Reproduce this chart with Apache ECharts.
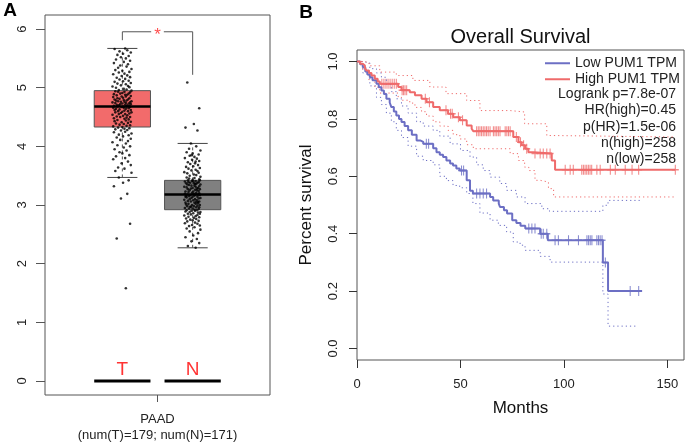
<!DOCTYPE html>
<html><head><meta charset="utf-8">
<script src="https://cdn.jsdelivr.net/npm/echarts@6/dist/echarts.min.js"></script>
<style>html,body{margin:0;padding:0;background:#fff}#c{width:685px;height:443px}</style>
</head><body><div id="c"></div>
<script>
// ---------------- Panel A data ----------------
const groups = ['T', 'N'];
const groupFill = ['#f26b6b', '#808080'];
// [lower whisker, Q1, median, Q3, upper whisker]
const boxStats = [
  [3.47, 4.33, 4.68, 4.95, 5.67],
  [2.27, 2.92, 3.18, 3.42, 4.05]
];
const tValues = [1.58,2.43,2.68,3.11,3.19,3.32,3.38,
  3.42,3.47,3.55,3.58,3.62,3.64,3.68,3.71,3.74,3.78,3.80,3.83,3.85,3.88,3.90,3.93,3.95,3.98,4.00,4.02,4.05,4.07,4.09,4.11,4.13,4.15,4.17,4.19,4.20,4.22,4.24,4.25,4.27,4.28,4.29,4.30,4.31,4.32,
  4.33,4.34,4.35,4.36,4.37,4.38,4.39,4.40,4.41,4.42,4.43,4.44,4.45,4.46,4.47,4.48,4.49,4.50,4.50,4.51,
  4.52,4.53,4.54,4.55,4.55,4.56,4.57,4.58,4.58,4.59,4.60,4.60,4.61,4.62,4.62,4.63,4.64,4.64,4.65,4.66,
  4.66,4.67,4.67,4.68,4.68,4.68,4.69,4.69,4.70,4.70,4.71,4.71,4.72,4.72,4.73,4.73,4.74,4.74,4.75,4.75,
  4.76,4.76,4.77,4.77,4.78,4.78,4.79,4.80,4.80,4.81,4.82,4.82,4.83,4.84,4.85,4.85,4.86,4.87,4.88,4.88,
  4.89,4.90,4.90,4.91,4.92,4.93,4.93,4.94,4.95,
  4.96,4.97,4.98,5.00,5.01,5.02,5.03,5.04,5.06,5.07,5.08,5.10,5.11,5.12,5.14,5.15,5.17,5.18,5.20,5.21,
  5.23,5.24,5.26,5.27,5.29,5.30,5.32,5.34,5.36,5.38,5.40,5.42,5.44,5.46,5.48,5.50,5.52,5.54,5.56,5.58,
  5.60,5.62,5.64,5.66,5.67];
const nValues = [2.27,2.30,2.35,2.38,2.42,2.45,2.48,2.52,2.55,2.58,2.60,2.62,2.64,2.65,2.66,2.68,2.69,2.70,2.72,2.73,
  2.74,2.75,2.76,2.77,2.78,2.79,2.80,2.81,2.82,2.83,2.84,2.85,2.85,2.86,2.87,2.88,2.88,2.89,2.90,2.90,2.91,2.91,2.92,
  2.93,2.94,2.94,2.95,2.96,2.96,2.97,2.98,2.98,2.99,3.00,3.00,3.01,3.02,3.02,3.03,3.04,3.04,3.05,3.06,
  3.06,3.07,3.08,3.08,3.09,3.10,3.10,3.11,3.12,3.12,3.13,3.14,3.14,3.15,3.16,3.16,3.17,3.17,3.18,3.18,
  3.18,3.19,3.19,3.20,3.21,3.21,3.22,3.23,3.23,3.24,3.25,3.25,3.26,3.27,3.27,3.28,3.29,3.29,3.30,3.31,
  3.31,3.32,3.33,3.33,3.34,3.35,3.35,3.36,3.37,3.37,3.38,3.38,3.39,3.39,3.40,3.40,3.41,3.41,3.42,3.42,
  3.36,3.28,3.14,3.05,2.97,
  3.43,3.44,3.45,3.46,3.47,3.48,3.50,3.51,3.52,3.54,3.55,3.56,3.58,3.59,3.60,3.62,3.63,3.65,3.66,3.68,
  3.70,3.71,3.73,3.75,3.77,3.79,3.80,3.82,3.84,3.86,3.88,3.90,3.93,3.96,4.00,4.05,
  4.27,4.32,4.38,4.65,5.09,3.74,3.85];
const jitter = [0.05,-0.08,0.11,-0.02,0.07,-0.12,0.01,0.09,-0.05,0.13,
  -0.10,0.03,-0.06,0.12,-0.01,0.08,-0.13,0.04,-0.09,0.10,
  0.00,-0.04,0.06,-0.11,0.02,0.11,-0.07,0.05,-0.14,0.08,
  -0.03,0.12,-0.08,0.01,0.09,-0.05,0.13,-0.12,0.04,-0.02,
  0.07,-0.10,0.03,0.10,-0.06,0.00,-0.13,0.06,0.11,-0.04,
  0.02,-0.09,0.08,-0.01,0.12,-0.11,0.05,-0.07,0.09,0.03,
  -0.12,0.06,-0.03,0.11,-0.08,0.01,0.07,-0.14,0.04,-0.05,
  0.10,-0.02,0.13,-0.10,0.00,0.08,-0.06,0.03,-0.11,0.12,
  -0.04,0.05,-0.09,0.09,0.02,-0.13,0.11,-0.01,0.06,-0.07,
  0.01,-0.12,0.10,-0.05,0.07,0.04,-0.08,0.12,-0.03,0.00,
  0.09,-0.10,0.05,-0.14,0.11,-0.02,0.03,-0.06,0.13,-0.09,
  0.06,0.02,-0.11,0.08,-0.04,0.10,-0.07,0.01,-0.13,0.05,
  -0.01,0.12,-0.08,0.04,0.07,-0.12,0.09,-0.03,0.00,0.11,
  -0.06,0.03,-0.10,0.13,-0.05,0.06,0.02,-0.09,0.10,-0.14,
  0.08,-0.02,0.05,-0.07,0.12,-0.11,0.01,0.09,-0.04,0.04,
  -0.08,0.11,-0.01,0.07,-0.13,0.03,-0.05,0.10,0.00,-0.10,
  0.13,-0.06,0.06,-0.03,0.08,-0.12,0.02,0.11,-0.09,0.05,
  -0.02,0.09,-0.07,0.01,0.12,-0.04,0.07,-0.11,0.04];
const yTicksA = [0, 1, 2, 3, 4, 5, 6];
const sigLeft = 5.81, sigTop = 5.954, sigRight = 5.22;
const groupLabelY = 0.19;
const xLabelA = 'PAAD\n(num(T)=179; num(N)=171)';

// ---------------- Panel B data ----------------
const kmLow = [[0,1],[1.5,0.99],[2.8,0.98],[4,0.965],[5,0.955],[6.2,0.945],[7.5,0.935],[9.4,0.922],[10.5,0.91],[11.8,0.899],[13,0.887],[14.2,0.87],[15.8,0.857],[16.6,0.841],[17.8,0.826],[19,0.812],[20.3,0.8],[21.5,0.789],[23,0.775],[24.7,0.76],[26.5,0.745],[28.8,0.725],[30.5,0.72],[32,0.713],[36.8,0.698],[38.4,0.684],[40,0.675],[41.6,0.667],[43.2,0.655],[45,0.645],[46.4,0.638],[48,0.627],[49.6,0.62],[53,0.586],[54.6,0.55],[56,0.54],[64.3,0.528],[65.8,0.516],[68.5,0.505],[69.1,0.493],[71,0.482],[72.5,0.47],[75,0.447],[77,0.437],[79,0.428],[81.3,0.418],[88.5,0.40],[92.2,0.377],[118.8,0.30],[121.3,0.20],[137.7,0.20]];
const kmHigh = [[0,1],[1.5,0.992],[2.8,0.986],[3.8,0.977],[4.5,0.969],[5.8,0.96],[7,0.951],[8.6,0.94],[10,0.93],[11,0.922],[19.9,0.911],[21.5,0.9],[25.5,0.893],[28,0.882],[31.2,0.87],[33.6,0.858],[36.8,0.841],[40,0.83],[44,0.818],[46.5,0.806],[49.7,0.795],[53,0.777],[55.4,0.766],[56.2,0.757],[75.5,0.737],[78,0.719],[79.6,0.708],[81.2,0.696],[82.8,0.684],[85.2,0.679],[94.1,0.655],[95.7,0.623],[153.8,0.623]];
const lowUpper = [[0,1],[2.8,0.995],[6.2,0.975],[9.4,0.96],[11.8,0.945],[14.2,0.92],[16.6,0.895],[19,0.87],[21.5,0.845],[24.7,0.82],[28.8,0.79],[32,0.775],[36.8,0.76],[40,0.74],[45,0.713],[50,0.69],[54.6,0.667],[57.8,0.64],[61,0.62],[64.3,0.597],[69,0.575],[72.3,0.551],[77,0.528],[81.2,0.505],[89.3,0.487],[93,0.478],[118.8,0.499],[121.3,0.516],[136.7,0.516]];
const lowLower = [[0,1],[2.8,0.96],[6.2,0.915],[9.4,0.875],[11.8,0.85],[14.2,0.82],[16.6,0.79],[19,0.76],[21.5,0.735],[24.7,0.705],[28.8,0.67],[32,0.655],[36.8,0.64],[40,0.6],[43.2,0.585],[46.4,0.568],[49.6,0.56],[53,0.54],[56,0.505],[59.4,0.472],[64.3,0.447],[68.3,0.429],[72.3,0.406],[75.5,0.371],[78.8,0.36],[81.2,0.342],[88.5,0.321],[93.3,0.301],[118.8,0.19],[121.3,0.078],[135.5,0.078]];
const highUpper = [[0,1],[2.8,0.997],[5.8,0.985],[11,0.963],[19,0.951],[27,0.934],[35.2,0.911],[43,0.888],[53,0.864],[59.4,0.829],[74,0.824],[81,0.783],[91.7,0.742],[95,0.737],[153.8,0.737]];
const highLower = [[0,1],[2.8,0.97],[5.8,0.935],[8.6,0.91],[11,0.89],[19.9,0.875],[21.5,0.865],[25.5,0.855],[28,0.84],[31.2,0.825],[33.6,0.81],[36.8,0.79],[40,0.775],[44,0.76],[46.5,0.745],[49.7,0.73],[53,0.71],[56.2,0.696],[74,0.679],[78,0.655],[81,0.632],[83,0.62],[86,0.586],[88.5,0.58],[92.5,0.557],[95,0.528],[153.8,0.528]];
const censorLow = [33.5,34.6,50.5,51.5,57.8,59.4,61,62.6,83,84.5,86,89,90,91.7,95.7,97.3,102.2,107,111.1,111.9,112.7,113.5,115.9,116.7,117.5,118.4,120,132,136.1];
const censorHigh = [12,13,14,15,16,17,18,19,21.8,22.5,23.2,24,33,35,43,45.2,46,49,51,57.8,58.6,59.4,60.2,61,61.8,62.6,63.4,64.3,65.9,66.7,67.5,68.3,69.1,71.6,72.4,73.2,74,77,79,80.5,82,86,88.5,90,91.7,93.3,100.6,103,104.5,108.6,109.4,110.2,111,111.8,112.6,113.4,115.9,117.5,122.4,124.8,129.6,132.9,136.1,153.8];
const monthTicks = [0, 50, 100, 150];
const survTicks = [0, 0.2, 0.4, 0.6, 0.8, 1.0];
const seriesNames = ['Low PUM1 TPM', 'High PUM1 TPM'];
const statsText = ['Logrank p=7.8e-07', 'HR(high)=0.45', 'p(HR)=1.5e-06', 'n(high)=258', 'n(low)=258'];

// ---------------- Chart ----------------
const FONT = '"Liberation Sans", Arial, Helvetica, sans-serif';
const RED = '#ef6b6b', BLUE = '#6c6fc4';
const AXC = '#222';
function survAt(curve, t) { let s = curve[0][1]; for (const p of curve) { if (p[0] <= t) s = p[1]; else break; } return s; }
const plusSym = 'path://M4.25,0h1.5v10h-1.5zM0,4.25h10v1.5h-10z';

const chart = echarts.init(document.getElementById('c'), null, {renderer: 'canvas'});
const option = {
  animation: false,
  backgroundColor: '#fff',
  textStyle: {fontFamily: FONT},
  grid: [
    {left: 45, top: 15, width: 225, height: 382, show: true, borderColor: '#555', borderWidth: 1, backgroundColor: 'transparent'},
    {left: 357, top: 50, width: 327, height: 310, show: true, borderColor: '#555', borderWidth: 1, backgroundColor: 'transparent'}
  ],
  xAxis: [
    {gridIndex: 0, type: 'value', min: -1.1, max: 2.1, splitLine: {show: false}, axisLine: {show: false, onZero: false},
      axisTick: {show: true, customValues: [0.5], length: 7, lineStyle: {color: '#555'}},
      axisLabel: {customValues: [0.5], formatter: () => xLabelA, fontSize: 13, lineHeight: 16, color: AXC, margin: 16, fontFamily: FONT}},
    {gridIndex: 1, type: 'value', min: 0, max: 158, splitLine: {show: false}, axisLine: {show: false, onZero: false},
      axisTick: {show: true, customValues: monthTicks, length: 8, lineStyle: {color: '#333'}},
      axisLabel: {customValues: monthTicks, fontSize: 13, color: AXC, margin: 18, fontFamily: FONT},
      name: 'Months', nameLocation: 'middle', nameGap: 40, nameTextStyle: {fontSize: 17, color: '#111', fontFamily: FONT}}
  ],
  yAxis: [
    {gridIndex: 0, type: 'value', min: -0.24, max: 6.24, splitLine: {show: false}, axisLine: {show: false, onZero: false},
      axisTick: {show: true, customValues: yTicksA, length: 9, lineStyle: {color: '#555'}},
      axisLabel: {customValues: yTicksA, rotate: 90, fontSize: 13, color: AXC, margin: 16, fontFamily: FONT}},
    {gridIndex: 1, type: 'value', min: -0.04, max: 1.04, splitLine: {show: false}, axisLine: {show: false, onZero: false},
      axisTick: {show: true, customValues: survTicks, length: 8, lineStyle: {color: '#333'}},
      axisLabel: {customValues: survTicks, rotate: 90, fontSize: 13, color: AXC, margin: 17, fontFamily: FONT, formatter: v => v.toFixed(1)},
      name: 'Percent survival', nameLocation: 'middle', nameRotate: 90, nameGap: 42, nameTextStyle: {fontSize: 17, color: '#111', fontFamily: FONT}}
  ],
  legend: {
    data: seriesNames, orient: 'vertical', left: 545, top: 56, padding: 0, itemWidth: 25, itemHeight: 2, itemGap: 1.5,
    icon: 'rect', selectedMode: false, textStyle: {fontSize: 14, color: AXC, fontFamily: FONT, lineHeight: 14.5}
  },
  graphic: [
    {type: 'text', x: 10, y: 11, style: {text: 'A', font: 'bold 19px ' + FONT, fill: '#000', align: 'center', verticalAlign: 'middle'}},
    {type: 'text', x: 306, y: 13, style: {text: 'B', font: 'bold 19px ' + FONT, fill: '#000', align: 'center', verticalAlign: 'middle'}},
    {type: 'text', x: 520.5, y: 37, style: {text: 'Overall Survival', font: '20px ' + FONT, fill: '#111', align: 'center', verticalAlign: 'middle'}},
    {type: 'text', x: 676, y: 86, style: {text: statsText.join('\n'), font: '14px ' + FONT, fill: AXC, align: 'right', verticalAlign: 'top', lineHeight: 16.3}}
  ],
  series: [
    // boxes
    {type: 'custom', xAxisIndex: 0, yAxisIndex: 0, silent: true,
      data: boxStats.map((s, i) => [i].concat(s)),
      encode: {x: 0, y: [1, 2, 3, 4, 5]},
      renderItem: function (params, api) {
        const gi = api.value(0);
        const pLo = api.coord([gi, api.value(1)]), pQ1 = api.coord([gi, api.value(2)]), pMd = api.coord([gi, api.value(3)]);
        const pQ3 = api.coord([gi, api.value(4)]), pHi = api.coord([gi, api.value(5)]), p0 = api.coord([gi, 0]);
        const hw = api.size([0.4, 0])[0], cw = api.size([0.214, 0])[0];
        const x = pMd[0];
        const dash = {stroke: '#555', lineWidth: 1, lineDash: [3, 3]};
        const solid = {stroke: '#444', lineWidth: 1};
        return {type: 'group', children: [
          {type: 'line', shape: {x1: x, y1: pLo[1], x2: x, y2: pQ1[1]}, style: dash},
          {type: 'line', shape: {x1: x, y1: pQ3[1], x2: x, y2: pHi[1]}, style: dash},
          {type: 'line', shape: {x1: x - cw, y1: pLo[1], x2: x + cw, y2: pLo[1]}, style: solid},
          {type: 'line', shape: {x1: x - cw, y1: pHi[1], x2: x + cw, y2: pHi[1]}, style: solid},
          {type: 'rect', shape: {x: x - hw, y: pQ3[1], width: 2 * hw, height: pQ1[1] - pQ3[1]}, style: {fill: groupFill[gi], stroke: '#555', lineWidth: 1}},
          {type: 'line', shape: {x1: x - hw, y1: pMd[1], x2: x + hw, y2: pMd[1]}, style: {stroke: '#000', lineWidth: 2.5}},
          {type: 'line', shape: {x1: x - hw, y1: p0[1], x2: x + hw, y2: p0[1]}, style: {stroke: '#000', lineWidth: 3}}
        ]};
      }},
    // jittered points
    {type: 'scatter', xAxisIndex: 0, yAxisIndex: 0, symbolSize: 2.6, itemStyle: {color: '#000'}, silent: true,
      data: tValues.map((v, i) => [0 + jitter[i], v])},
    {type: 'scatter', xAxisIndex: 0, yAxisIndex: 0, symbolSize: 2.6, itemStyle: {color: '#000'}, silent: true,
      data: nValues.map((v, i) => [1 + jitter[i] * 0.85, v])},
    // significance bracket
    {type: 'line', xAxisIndex: 0, yAxisIndex: 0, symbol: 'none', silent: true, lineStyle: {color: '#555', width: 1},
      data: [[0, sigLeft], [0, sigTop], [0.41, sigTop]]},
    {type: 'line', xAxisIndex: 0, yAxisIndex: 0, symbol: 'none', silent: true, lineStyle: {color: '#555', width: 1},
      data: [[0.59, sigTop], [1, sigTop], [1, sigRight]]},
    {type: 'scatter', xAxisIndex: 0, yAxisIndex: 0, symbolSize: 0, silent: true,
      label: {show: true, formatter: '*', color: '#ff2020', fontSize: 17, position: 'inside', offset: [0, 4], fontFamily: FONT},
      data: [[0.5, sigTop]]},
    {type: 'scatter', xAxisIndex: 0, yAxisIndex: 0, symbolSize: 0, silent: true,
      label: {show: true, formatter: p => groups[p.dataIndex], color: '#ff0000', fontSize: 19, position: 'inside', fontFamily: FONT},
      data: groups.map((g, i) => [i, groupLabelY])},
    // KM confidence bands
    {type: 'line', xAxisIndex: 1, yAxisIndex: 1, step: 'end', symbol: 'none', silent: true, lineStyle: {color: BLUE, width: 1, type: [1.2, 3]}, data: lowUpper},
    {type: 'line', xAxisIndex: 1, yAxisIndex: 1, step: 'end', symbol: 'none', silent: true, lineStyle: {color: BLUE, width: 1, type: [1.2, 3]}, data: lowLower},
    {type: 'line', xAxisIndex: 1, yAxisIndex: 1, step: 'end', symbol: 'none', silent: true, lineStyle: {color: RED, width: 1, type: [1.2, 3]}, data: highUpper},
    {type: 'line', xAxisIndex: 1, yAxisIndex: 1, step: 'end', symbol: 'none', silent: true, lineStyle: {color: RED, width: 1, type: [1.2, 3]}, data: highLower},
    // KM curves
    {name: seriesNames[0], type: 'line', xAxisIndex: 1, yAxisIndex: 1, step: 'end', symbol: 'none', silent: true, color: BLUE, itemStyle: {color: BLUE}, lineStyle: {color: BLUE, width: 2}, data: kmLow},
    {name: seriesNames[1], type: 'line', xAxisIndex: 1, yAxisIndex: 1, step: 'end', symbol: 'none', silent: true, color: RED, itemStyle: {color: RED}, lineStyle: {color: RED, width: 2}, data: kmHigh},
    // censor marks
    {type: 'scatter', xAxisIndex: 1, yAxisIndex: 1, symbol: plusSym, symbolSize: [7, 10], silent: true, itemStyle: {color: BLUE},
      data: censorLow.map(t => [t, survAt(kmLow, t)])},
    {type: 'scatter', xAxisIndex: 1, yAxisIndex: 1, symbol: plusSym, symbolSize: [7, 10], silent: true, itemStyle: {color: RED},
      data: censorHigh.map(t => [t, survAt(kmHigh, t)])}
  ]
};
chart.setOption(option);
</script>
</body></html>
